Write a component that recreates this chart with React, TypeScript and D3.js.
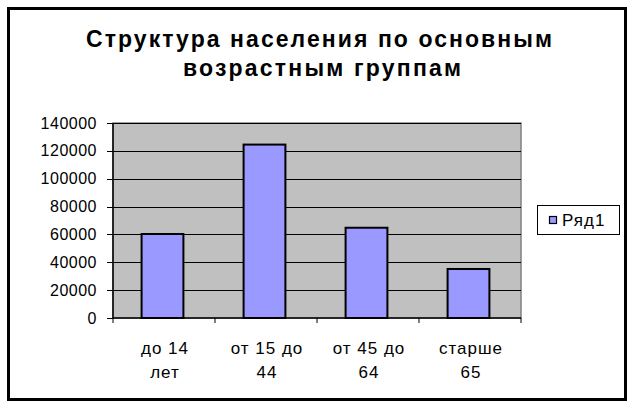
import React from "react";
import * as d3 from "d3";

const categories: string[][] = [["до 14", "лет"], ["от 15 до", "44"], ["от 45 до", "64"], ["старше", "65"]];
const values: number[] = [60300, 124500, 64800, 35200];
const yTicks: number[] = [0, 20000, 40000, 60000, 80000, 100000, 120000, 140000];
const titleLines: string[] = ["Структура населения по основным", "возрастным группам"];
const seriesName = "Ряд1";

const W = 636, H = 408;
const plot = { left: 113, right: 521, top: 123, bottom: 318 };
const FONT = "'Liberation Sans', Arial, sans-serif";

export default function App() {
  const keys = categories.map((_, i) => String(i));
  const x = d3.scaleBand<string>().domain(keys).range([plot.left, plot.right]).padding(0);
  const y = d3.scaleLinear().domain([0, 140000]).range([plot.bottom, plot.top]);
  const barW = x.bandwidth() * 0.41;
  const boundaries = [...keys.map((k) => x(k) as number), plot.right];

  return (
    <div style={{ position: "absolute", left: 0, top: 0 }}>
      <svg width={W} height={H} style={{ display: "block", background: "#fff" }} fontFamily={FONT}>
        <rect x={0} y={0} width={W} height={H} fill="#fff" />
        <rect x={8.5} y={8.5} width={617} height={391} fill="none" stroke="#000" strokeWidth={3} />
        {titleLines.map((t, i) => (
          <text key={i} x={i === 0 ? 319 : 322} y={47 + i * 29} textAnchor="middle" fontSize={23} fontWeight="bold" fill="#000"
            textLength={i === 0 ? 466 : 278} lengthAdjust="spacing">
            {t}
          </text>
        ))}
        <rect x={plot.left} y={plot.top} width={plot.right - plot.left} height={plot.bottom - plot.top} fill="#C0C0C0" stroke="#808080" strokeWidth={1.5} />
        {yTicks.filter((v) => v > 0).map((v) => (
          <line key={v} x1={plot.left} x2={plot.right} y1={Math.round(y(v)) + 0.5} y2={Math.round(y(v)) + 0.5} stroke="#000" strokeWidth={1} />
        ))}
        {values.map((v, i) => {
          const cx = (x(keys[i]) as number) + x.bandwidth() / 2 - 1.5;
          return (
            <rect key={i} x={cx - barW / 2} y={y(v)} width={barW} height={plot.bottom - y(v)} fill="#9999FF" stroke="#000" strokeWidth={2} />
          );
        })}
        <line x1={plot.left} x2={plot.left} y1={plot.top} y2={plot.bottom} stroke="#000" strokeWidth={1.5} />
        <line x1={plot.left} x2={plot.right} y1={plot.bottom} y2={plot.bottom} stroke="#000" strokeWidth={1.5} />
        {yTicks.map((v) => (
          <g key={v}>
            <line x1={plot.left - 6} x2={plot.left} y1={Math.round(y(v)) + 0.5} y2={Math.round(y(v)) + 0.5} stroke="#000" strokeWidth={1} />
            <text x={97} y={y(v) + 5.5} textAnchor="end" fontSize={16} fill="#000" letterSpacing={0.5}>{v}</text>
          </g>
        ))}
        {boundaries.map((b, i) => (
          <line key={i} x1={b} x2={b} y1={plot.bottom} y2={plot.bottom + 5} stroke="#000" strokeWidth={1} />
        ))}
        {categories.map((lines, i) => {
          const cx = (x(keys[i]) as number) + x.bandwidth() / 2 + 1;
          return lines.map((l, j) => (
            <text key={i + "-" + j} x={cx} y={354 + j * 24} textAnchor="middle" fontSize={17} fill="#000" letterSpacing={1}>{l}</text>
          ));
        })}
        <rect x={537.5} y={205.5} width={82} height={29} fill="#fff" stroke="#000" strokeWidth={1} />
        <rect x={549.5} y={216.5} width={7} height={7} fill="#9999FF" stroke="#000" strokeWidth={1.2} />
        <text x={562} y={226} fontSize={17} fill="#000" letterSpacing={1}>{seriesName}</text>
      </svg>
    </div>
  );
}
